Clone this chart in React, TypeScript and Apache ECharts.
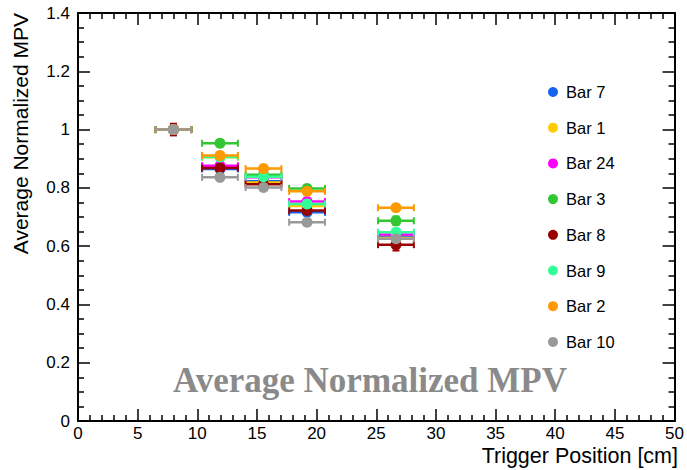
import React, { useEffect, useRef } from "react";
import * as echarts from "echarts";

const seriesNames = ["Bar 7", "Bar 1", "Bar 24", "Bar 3", "Bar 8", "Bar 9", "Bar 2", "Bar 10"];
const seriesColors = ["#1463f0", "#ffcc00", "#ff00ff", "#33c633", "#990000", "#33ff99", "#ff9900", "#999999"];
const xPositions = [8.0, 11.9, 15.55, 19.2, 26.65];
const xErr = [1.5, 1.5, 1.5, 1.5, 1.5];
const bar7 = [1.0, 0.865, 0.823, 0.716, 0.632];
const bar1 = [1.0, 0.905, 0.818, 0.738, 0.628];
const bar24 = [1.0, 0.876, 0.836, 0.753, 0.64];
const bar3 = [1.0, 0.953, 0.845, 0.798, 0.687];
const bar8 = [1.0, 0.868, 0.812, 0.722, 0.605];
const bar9 = [1.0, 0.906, 0.838, 0.745, 0.648];
const bar2 = [1.0, 0.911, 0.866, 0.788, 0.732];
const bar10 = [1.0, 0.836, 0.801, 0.682, 0.625];
const yErrSmall = [0.004, 0.006, 0.006, 0.006, 0.008];
const yErrBar3 = [0.004, 0.006, 0.006, 0.006, 0.015];
const yErrBar8 = [0.02, 0.008, 0.006, 0.008, 0.02];
const seriesValues = [bar7, bar1, bar24, bar3, bar8, bar9, bar2, bar10];
const seriesYErr = [yErrSmall, yErrSmall, yErrSmall, yErrBar3, yErrBar8, yErrSmall, yErrSmall, yErrSmall];
const xTicks = { min: 0, max: 50, interval: 5 };
const yTicks = { min: 0, max: 1.4, interval: 0.2 };

const SANS = '"Liberation Sans", Arial, Helvetica, sans-serif';

export default function App() {
  const ref = useRef<HTMLDivElement>(null);
  useEffect(() => {
    document.body.style.margin = "0";
    if (!ref.current) return;
    const chart = echarts.init(ref.current, undefined, { renderer: "svg" });

    const renderItem = (color: string) => (params: any, api: any) => {
      const x = api.value(0);
      const y = api.value(1);
      const xe = api.value(2);
      const ye = api.value(3);
      const c = api.coord([x, y]);
      const l = api.coord([x - xe, y]);
      const r = api.coord([x + xe, y]);
      const t = api.coord([x, y + ye]);
      const b = api.coord([x, y - ye]);
      const lw = 2.5;
      const cap = 3.5;
      const st = { stroke: color, lineWidth: lw };
      return {
        type: "group",
        children: [
          { type: "line", shape: { x1: l[0], y1: l[1], x2: r[0], y2: r[1] }, style: st },
          { type: "line", shape: { x1: l[0], y1: l[1] - cap, x2: l[0], y2: l[1] + cap }, style: { stroke: color, lineWidth: 2 } },
          { type: "line", shape: { x1: r[0], y1: r[1] - cap, x2: r[0], y2: r[1] + cap }, style: { stroke: color, lineWidth: 2 } },
          { type: "line", shape: { x1: t[0], y1: t[1], x2: b[0], y2: b[1] }, style: st },
          { type: "line", shape: { x1: t[0] - cap, y1: t[1], x2: t[0] + cap, y2: t[1] }, style: { stroke: color, lineWidth: 2 } },
          { type: "line", shape: { x1: b[0] - cap, y1: b[1], x2: b[0] + cap, y2: b[1] }, style: { stroke: color, lineWidth: 2 } },
          { type: "circle", shape: { cx: c[0], cy: c[1], r: 5.5 }, style: { fill: color } },
        ],
      };
    };

    const series = seriesNames.map((name, i) => ({
      name,
      type: "custom",
      xAxisIndex: 0,
      yAxisIndex: 0,
      itemStyle: { color: seriesColors[i] },
      encode: { x: 0, y: 1 },
      data: xPositions.map((x, j) => [x, seriesValues[i][j], xErr[j], seriesYErr[i][j]]),
      renderItem: renderItem(seriesColors[i]),
    }));

    const axisCommon = {
      type: "value",
      axisLine: { show: true, onZero: false, lineStyle: { color: "#000", width: 2 } },
      axisTick: { show: true, inside: true, length: 12, lineStyle: { color: "#000", width: 1.5 } },
      minorTick: { show: true, length: 6, lineStyle: { color: "#000", width: 1.5 } },
      splitLine: { show: false },
      minorSplitLine: { show: false },
    };

    chart.setOption({
      animation: false,
      backgroundColor: "#fff",
      grid: { left: 78, right: 10, top: 13, bottom: 49, containLabel: false },
      xAxis: [
        {
          ...axisCommon,
          position: "bottom",
          min: xTicks.min,
          max: xTicks.max,
          interval: xTicks.interval,
          minorTick: { ...axisCommon.minorTick, splitNumber: 5 },
          axisLabel: { color: "#000", fontFamily: SANS, fontSize: 17, margin: 4 },
        },
        {
          ...axisCommon,
          position: "top",
          min: xTicks.min,
          max: xTicks.max,
          interval: xTicks.interval,
          minorTick: { ...axisCommon.minorTick, splitNumber: 5 },
          axisLabel: { show: false },
        },
      ],
      yAxis: [
        {
          ...axisCommon,
          position: "left",
          min: yTicks.min,
          max: yTicks.max,
          interval: yTicks.interval,
          minorTick: { ...axisCommon.minorTick, splitNumber: 4 },
          axisLabel: { color: "#000", fontFamily: SANS, fontSize: 17, margin: 8, formatter: (v: number) => String(Math.round(v * 10) / 10) },
        },
        {
          ...axisCommon,
          position: "right",
          min: yTicks.min,
          max: yTicks.max,
          interval: yTicks.interval,
          minorTick: { ...axisCommon.minorTick, splitNumber: 4 },
          axisLabel: { show: false },
        },
      ],
      legend: {
        orient: "vertical",
        left: 548,
        top: 83.5,
        padding: 0,
        icon: "circle",
        itemWidth: 10,
        itemHeight: 10,
        itemGap: 18.7,
        data: seriesNames,
        textStyle: { color: "#000", fontFamily: SANS, fontSize: 16.5, lineHeight: 16, padding: [0, 0, 0, 3] },
      },
      graphic: [
        {
          type: "text",
          x: 370,
          y: 380,
          style: {
            text: "Average Normalized MPV",
            font: 'bold 35px "Liberation Serif", "Times New Roman", serif',
            fill: "#8a8a8a",
            textAlign: "center",
            textVerticalAlign: "middle",
          },
        },
        {
          type: "text",
          x: 678,
          y: 456,
          style: {
            text: "Trigger Position [cm]",
            font: `21.5px ${SANS}`,
            fill: "#000",
            textAlign: "right",
            textVerticalAlign: "middle",
          },
        },
        {
          type: "text",
          x: 20,
          y: 13,
          rotation: Math.PI / 2,
          style: {
            text: "Average Normalized MPV",
            font: `21px ${SANS}`,
            fill: "#000",
            textAlign: "right",
            textVerticalAlign: "middle",
          },
        },
      ],
      series,
    });
    return () => chart.dispose();
  }, []);
  return <div ref={ref} style={{ width: 687, height: 470 }} />;
}
